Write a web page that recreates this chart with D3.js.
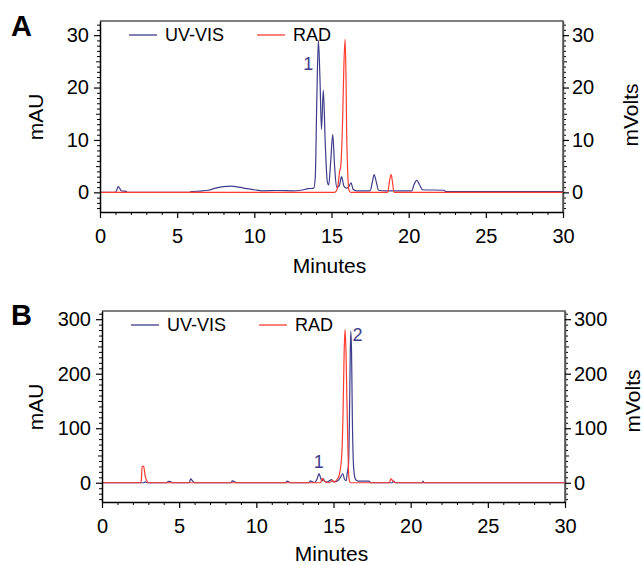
<!DOCTYPE html>
<html><head><meta charset="utf-8">
<script src="https://cdn.jsdelivr.net/npm/d3@7/dist/d3.min.js"></script>
<style>
body{margin:0;background:#fff}
svg{display:block}
text{font-family:Arial,"Liberation Sans",sans-serif;fill:#000}
</style>
</head><body>
<svg id="chart" width="643" height="565"></svg>
<script>
// ---------- data ----------
const xTickValues = [0, 5, 10, 15, 20, 25, 30];
const yTicksA = [0, 10, 20, 30];
const yTicksB = [0, 100, 200, 300];
const legendNames = ["UV-VIS", "RAD"];
const panelLabels = ["A", "B"];

// Panel A, UV-VIS trace [minutes, mAU]
const uvA = [[0,0],[1.0,0],[1.07,0.3],[1.17,1.1],[1.27,0.8],[1.37,0.3],[1.5,0.25],[1.7,0.2],[1.75,0],[5.85,0],[5.9,0.15],[6.5,0.25],[7.0,0.4],[7.5,0.8],[8.0,1.1],[8.5,1.2],[9.0,1.0],[9.5,0.7],[10.0,0.5],[10.5,0.3],[11.5,0.35],[12.5,0.3],[13.0,0.4],[13.5,0.7],[13.85,0.8],[13.95,3],[14.05,18],[14.15,29],[14.25,22],[14.35,12],[14.47,19.5],[14.6,9],[14.73,2],[14.82,1.4],[14.95,6],[15.08,11],[15.2,5],[15.33,1],[15.5,1.2],[15.65,3],[15.8,1.2],[15.95,0.8],[16.1,1],[16.27,1.8],[16.4,0.6],[16.6,0.3],[17.5,0.3],[17.65,2],[17.76,3.4],[17.9,2],[18.05,0.4],[18.5,0.3],[20.2,0.3],[20.35,1.5],[20.52,2.3],[20.7,1.5],[20.9,0.5],[22.3,0.4],[22.4,0.15],[30,0.15]];
// Panel A, RAD trace [minutes, mVolts]
const radA = [[0,0],[15.2,0],[15.35,0.5],[15.45,2],[15.52,3.9],[15.6,5],[15.72,13.8],[15.8,24],[15.88,29.2],[15.94,22],[15.98,12],[16.05,4],[16.12,0.5],[16.25,0],[18.65,0],[18.75,2],[18.86,3.4],[18.95,2],[19.05,0],[30,0]];

// Panel B, UV-VIS trace [minutes, mAU]
const uvB = [[0,0],[2.7,0],[2.78,1.5],[2.88,1],[2.97,0],[4.2,0],[4.3,2.5],[4.45,2],[4.55,0],[5.65,0],[5.75,7],[5.85,4],[6.0,0],[8.35,0],[8.45,3.5],[8.6,2],[8.7,0],[11.9,0],[12.0,3],[12.1,2],[12.2,0],[13.4,0],[13.5,3.5],[13.6,2],[13.75,0.5],[13.95,8],[14.06,17],[14.15,10],[14.25,3],[14.34,7],[14.45,2],[14.6,1],[14.75,4],[14.88,6],[14.97,2],[15.1,2],[15.3,4],[15.45,10],[15.6,17],[15.72,6],[15.82,4],[15.9,20],[15.97,32],[16.03,110],[16.08,225],[16.12,278],[16.17,240],[16.22,120],[16.3,30],[16.4,8],[16.5,4],[16.6,3],[17.3,3],[17.4,0],[18.8,0],[18.9,3],[19.0,0],[20.75,0],[20.8,3],[20.85,0],[30,0]];
// Panel B, RAD trace [minutes, mVolts]
const radB = [[0,0],[2.5,0],[2.55,5],[2.6,30],[2.7,30],[2.8,12],[2.9,4],[3.0,0],[14.15,0],[14.28,8],[14.4,3],[14.55,1],[14.7,0],[14.95,4],[15.05,1],[15.2,5],[15.35,12],[15.53,48],[15.62,130],[15.69,240],[15.75,281],[15.81,240],[15.87,150],[15.92,82],[15.97,25],[16.03,3],[16.12,0],[18.6,0],[18.73,7],[18.85,3],[19.0,0],[30,0]];

// Peak annotations [minutes, value, label]
const peaksA = [[13.5, 24.5, "1"]];
const peaksB = [[14.05, 39, "1"], [16.55, 272, "2"]];

// ---------- drawing ----------
const svg = d3.select("#chart");
const UV_COLOR = "#3d3d8c";
const RAD_COLOR = "#ff3b2f";

const panels = [
  {label: panelLabels[0], left:100, right:563, top:21, bottom:212, yDomain:[-3.75, 32.7], yTicks:yTicksA, minor:1, mid:5, uv:uvA, rad:radA, peaks:peaksA,
   labelY:36, legendY:35, xLabelBase:243, titleY:273, leftTitleY:117, rightTitleY:115},
  {label: panelLabels[1], left:102, right:565, top:311, bottom:502, yDomain:[-35.3, 315], yTicks:yTicksB, minor:10, mid:50, uv:uvB, rad:radB, peaks:peaksB,
   labelY:325, legendY:325, xLabelBase:533, titleY:561, leftTitleY:407, rightTitleY:401}
];

panels.forEach((p, i) => {
  const x = d3.scaleLinear().domain([0, 30]).range([p.left, p.right]);
  const y = d3.scaleLinear().domain(p.yDomain).range([p.bottom, p.top]);
  const g = svg.append("g");

  const clipId = "clip" + i;
  svg.append("clipPath").attr("id", clipId).append("rect")
    .attr("x", p.left).attr("y", p.top).attr("width", p.right - p.left).attr("height", p.bottom - p.top);

  // frame (top and right)
  g.append("path")
    .attr("d", `M${p.left},${p.top}H${p.right}V${p.bottom}`)
    .attr("fill", "none").attr("stroke", "#555").attr("stroke-width", 1.5);

  // traces
  const line = d3.line().x(d => x(d[0])).y(d => y(d[1])).curve(d3.curveMonotoneX);
  const traces = g.append("g").attr("clip-path", `url(#${clipId})`);
  traces.append("path").datum(p.uv).attr("d", line).attr("fill", "none").attr("stroke", UV_COLOR).attr("stroke-width", 1.2);
  traces.append("path").datum(p.rad).attr("d", line).attr("fill", "none").attr("stroke", RAD_COLOR).attr("stroke-width", 1.2);

  const [y0, y1] = p.yDomain;
  const minorY = d3.range(Math.ceil(y0 / p.minor) * p.minor, y1, p.minor).filter(v => v % p.mid !== 0);
  const midY = d3.range(Math.ceil(y0 / p.mid) * p.mid, y1, p.mid).filter(v => !p.yTicks.includes(v));
  const minorX = d3.range(0, 31, 1).filter(v => v % 5 !== 0);

  function styleAxis(sel, fs) {
    sel.selectAll("path.domain").attr("stroke", "#000").attr("stroke-width", 1.5);
    sel.selectAll(".tick line").attr("stroke", "#000").attr("stroke-width", 1.2);
    sel.selectAll(".tick text").attr("font-size", fs).attr("font-family", "Arial, 'Liberation Sans', sans-serif").attr("fill", "#000");
  }
  function minorAxis(axisFn, scale, vals, size, tx, ty) {
    const a = g.append("g").attr("transform", `translate(${tx},${ty})`)
      .call(axisFn(scale).tickValues(vals).tickSize(size).tickFormat(""));
    a.select("path.domain").remove();
    a.selectAll(".tick line").attr("stroke", "#000").attr("stroke-width", 1);
  }

  // left axis
  minorAxis(d3.axisLeft, y, minorY, 3, p.left, 0);
  minorAxis(d3.axisLeft, y, midY, 4, p.left, 0);
  const la = g.append("g").attr("transform", `translate(${p.left},0)`)
    .call(d3.axisLeft(y).tickValues(p.yTicks).tickSize(6).tickSizeOuter(0).tickPadding(5));
  styleAxis(la, 20);

  // right axis
  minorAxis(d3.axisRight, y, minorY, 3, p.right, 0);
  minorAxis(d3.axisRight, y, midY, 4, p.right, 0);
  const ra = g.append("g").attr("transform", `translate(${p.right},0)`)
    .call(d3.axisRight(y).tickValues(p.yTicks).tickSize(6).tickSizeOuter(0).tickPadding(3));
  styleAxis(ra, 20);
  ra.select("path.domain").attr("stroke", "#555");

  // bottom axis
  minorAxis(d3.axisBottom, x, minorX, 3, 0, p.bottom);
  const ba = g.append("g").attr("transform", `translate(0,${p.bottom})`)
    .call(d3.axisBottom(x).tickValues(xTickValues).tickSize(6).tickSizeOuter(0).tickPadding(9));
  styleAxis(ba, 20);
  ba.selectAll(".tick text").attr("dy", null).attr("y", p.xLabelBase - p.bottom);

  // axis titles
  g.append("text").attr("x", (p.left + p.right) / 2 - 2).attr("y", p.titleY)
    .attr("text-anchor", "middle").attr("font-size", 21).text("Minutes");
  g.append("text").attr("transform", `translate(43,${p.leftTitleY}) rotate(-90)`)
    .attr("text-anchor", "middle").attr("font-size", 21).text("mAU");
  g.append("text").attr("transform", `translate(${i === 0 ? 638 : 640},${p.rightTitleY}) rotate(-90)`)
    .attr("text-anchor", "middle").attr("font-size", 21).text("mVolts");

  // panel letter
  g.append("text").attr("x", 11).attr("y", p.labelY).attr("font-size", 29).attr("font-weight", "bold").text(p.label);

  // legend
  const lg = g.append("g").attr("transform", `translate(0,${p.legendY})`);
  const items = [{name: legendNames[0], c: UV_COLOR, x0: p.left + 29}, {name: legendNames[1], c: RAD_COLOR, x0: p.left + 157}];
  items.forEach(it => {
    lg.append("line").attr("x1", it.x0).attr("x2", it.x0 + 28).attr("y1", 0).attr("y2", 0)
      .attr("stroke", it.c).attr("stroke-width", 1.3);
    lg.append("text").attr("x", it.x0 + 36).attr("y", 0).attr("dy", "0.36em").attr("font-size", 18).text(it.name);
  });

  // peak labels
  p.peaks.forEach(pk => {
    g.append("text").attr("x", x(pk[0])).attr("y", y(pk[1])).attr("dy", "0.36em")
      .attr("text-anchor", "middle").attr("font-size", 18).style("fill", UV_COLOR).text(pk[2]);
  });
});
</script>
</body></html>
